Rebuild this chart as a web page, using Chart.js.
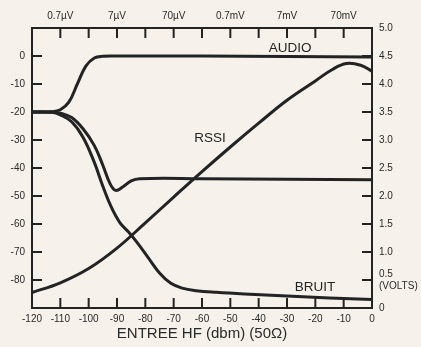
<!DOCTYPE html>
<html>
<head>
<meta charset="utf-8">
<script src="https://cdn.jsdelivr.net/npm/chart.js@4"></script>
<style>
body{margin:0;background:#f6f1ea;}
#wrap{width:421px;height:347px;}
</style>
</head>
<body>
<div id="wrap"><canvas id="rfChart"></canvas></div>
<script>

// input level, dBm (bottom axis)
const xTicks = [-120,-110,-100,-90,-80,-70,-60,-50,-40,-30,-20,-10,0];

// top axis: same levels as voltages in 50 ohm
const topTicks = [-120,-110,-100,-90,-80,-70,-60,-50,-40,-30,-20,-10,0];
const topLabels = {"-110":"0.7µV","-90":"7µV","-70":"70µV","-50":"0.7mV","-30":"7mV","-10":"70mV"};

// left axis (dB) and right axis (volts)
const dbTicks = [-90,-80,-70,-60,-50,-40,-30,-20,-10,0,10];
const voltTicks = [0,0.5,1,1.5,2,2.5,3,3.5,4,4.5,5];

// AUDIO
const audioIn  = [-120,-113,-110,-107,-104,-101,-98,-95,-90,-60,-30,0];
const audioOut = [-20,-19.9,-19.2,-16.5,-10,-3.6,-0.7,-0.1,0,0,-0.2,-0.4];

// unlabelled curve, dips to -48 then flat
const dipIn  = [-120,-113,-110,-106,-102,-98,-95,-92.5,-90.5,-88,-85,-82,-60,-30,0];
const dipOut = [-20,-20,-20.4,-22,-26,-32,-39,-45.5,-48,-46.8,-44.6,-43.8,-43.8,-44,-44.2];

// BRUIT
const bruitIn  = [-120,-113,-110,-106,-102,-98,-95,-92,-89,-86,-83,-79,-75,-71,-67,-62,-55,-45,-30,-15,0];
const bruitOut = [-20,-20.1,-21,-23.5,-29,-38,-46.5,-54,-59.5,-62.8,-66.5,-72,-77.5,-81.2,-82.9,-83.8,-84.4,-85,-85.7,-86.4,-87];

// RSSI
const rssiIn  = [-120,-110,-100,-90,-80,-70,-60,-50,-40,-30,-20,-14,-9,-4,0];
const rssiOut = [-84.5,-81,-75.9,-68.6,-59.6,-50.4,-41.3,-32.5,-24,-15.8,-8.9,-4.8,-2.7,-3.3,-5.4];

Chart.defaults.font.family = "'Liberation Sans', Arial, sans-serif";
Chart.defaults.color = "#2a2a2a";

const ink = "#232323";

function pts(xs, ys){
    return xs.map((x, i) => ({x: x, y: ys[i]}));
}

function curve(label, xs, ys){
    return {
        label: label,
        data: pts(xs, ys),
        borderColor: ink,
        borderWidth: 3,
        pointRadius: 0,
        tension: 0.4,
        fill: false
    };
}

function fixed(list){
    return function(scale){
        scale.ticks = list.map(v => ({value: v}));
    };
}

// short tick marks pointing into the plot
const innerTicks = {
    id: "innerTicks",
    afterDatasetsDraw(chart){
        const ctx = chart.ctx;
        const a = chart.chartArea;
        const len = 10;
        ctx.save();
        ctx.strokeStyle = ink;
        ctx.lineWidth = 2;
        ["x","xTop","y","yRight"].forEach(id => {
            const s = chart.scales[id];
            s.ticks.forEach(t => {
                if(t.value === s.min || t.value === s.max) return;
                const p = s.getPixelForValue(t.value);
                ctx.beginPath();
                if(id === "x"){ ctx.moveTo(p, a.bottom); ctx.lineTo(p, a.bottom - len); }
                if(id === "xTop"){ ctx.moveTo(p, a.top); ctx.lineTo(p, a.top + len); }
                if(id === "y"){ ctx.moveTo(a.left, p); ctx.lineTo(a.left + len, p); }
                if(id === "yRight"){ ctx.moveTo(a.right, p); ctx.lineTo(a.right - len, p); }
                ctx.stroke();
            });
        });
        ctx.restore();
    }
};

// curve names written next to the curves
const curveNames = {
    id: "curveNames",
    afterDatasetsDraw(chart){
        const ctx = chart.ctx;
        const sx = chart.scales.x, sy = chart.scales.y;
        const names = [
            ["AUDIO", -28.9, 2.6],
            ["RSSI", -57.2, -29.5],
            ["BRUIT", -20.1, -82.7]
        ];
        ctx.save();
        ctx.fillStyle = ink;
        ctx.font = "13.5px 'Liberation Sans', Arial, sans-serif";
        ctx.textAlign = "center";
        ctx.textBaseline = "middle";
        names.forEach(n => {
            ctx.fillText(n[0], sx.getPixelForValue(n[1]), sy.getPixelForValue(n[2]));
        });
        ctx.restore();
    }
};

const frame = {display: true, color: ink, width: 2};
const noGrid = {drawOnChartArea: false, drawTicks: false};

new Chart(

    document.getElementById("rfChart"),

    {
        type: "line",

        data: {
            datasets: [
                curve("AUDIO", audioIn, audioOut),
                curve("", dipIn, dipOut),
                curve("BRUIT", bruitIn, bruitOut),
                curve("RSSI", rssiIn, rssiOut)
            ]
        },

        options: {
            responsive: true,
            maintainAspectRatio: false,
            animation: false,
            layout: {padding: 0},
            plugins: {
                legend: {display: false},
                tooltip: {enabled: false}
            },
            scales: {
                x: {
                    type: "linear",
                    position: "bottom",
                    min: -120,
                    max: 0,
                    afterBuildTicks: fixed(xTicks),
                    afterFit(s){ s.height = 39; },
                    grid: noGrid,
                    border: frame,
                    ticks: {
                        font: {size: 10},
                        padding: 5,
                        maxRotation: 0,
                        autoSkip: false
                    },
                    title: {
                        display: true,
                        text: "ENTREE HF (dbm) (50Ω)",
                        font: {size: 15},
                        padding: {top: 0, bottom: 4}
                    }
                },
                xTop: {
                    type: "linear",
                    position: "top",
                    min: -120,
                    max: 0,
                    afterBuildTicks: fixed(topTicks),
                    afterFit(s){ s.height = 28; },
                    grid: noGrid,
                    border: frame,
                    ticks: {
                        font: {size: 10},
                        padding: 6,
                        maxRotation: 0,
                        autoSkip: false,
                        callback: v => topLabels[v] || ""
                    }
                },
                y: {
                    position: "left",
                    min: -90,
                    max: 10,
                    afterBuildTicks: fixed(dbTicks),
                    afterFit(s){ s.width = 32; },
                    grid: noGrid,
                    border: frame,
                    ticks: {
                        font: {size: 10},
                        padding: 7,
                        autoSkip: false,
                        callback: v => (v > 0 || v < -80) ? "" : String(v)
                    }
                },
                yRight: {
                    position: "right",
                    min: 0,
                    max: 5,
                    afterBuildTicks: fixed(voltTicks),
                    afterFit(s){ s.width = 49; },
                    grid: noGrid,
                    border: frame,
                    ticks: {
                        font: {size: 10},
                        padding: 7,
                        autoSkip: false,
                        callback: v => v === 0 ? "0" : (v === 0.5 ? ["0.5", "(VOLTS)"] : v.toFixed(1))
                    }
                }
            }
        },

        plugins: [innerTicks, curveNames]
    }
);

</script>
</body>
</html>
